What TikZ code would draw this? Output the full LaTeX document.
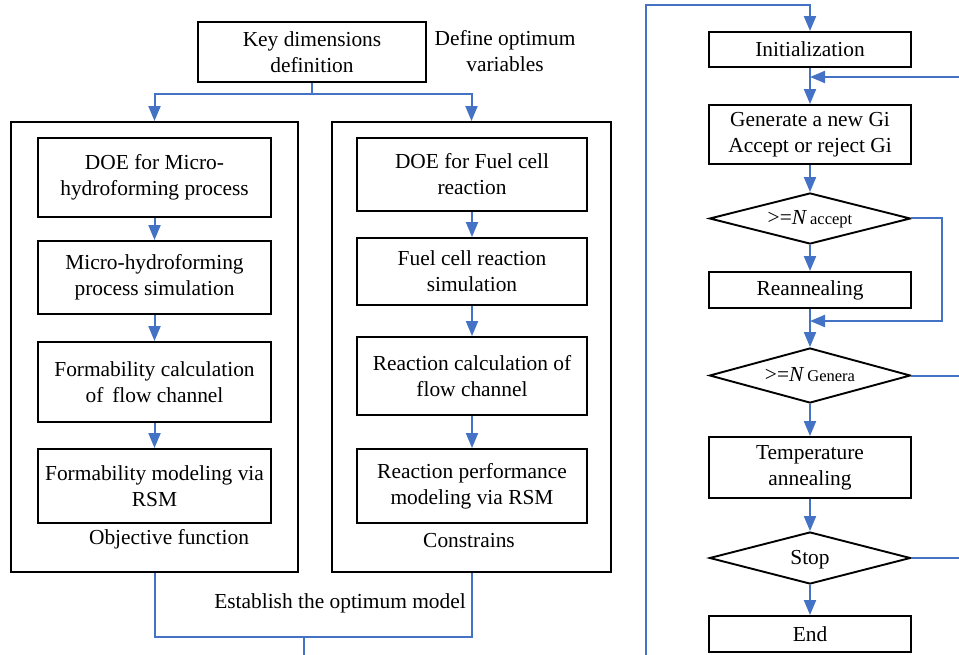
\documentclass[tikz,border=0pt]{standalone}
\usepackage{fontspec}
\setmainfont{Liberation Serif}
\usetikzlibrary{arrows.meta,shapes.geometric}
\definecolor{flowblue}{RGB}{68,114,196}
\newcommand{\dtext}[1]{\raisebox{-0.65ex}[0pt][0pt]{\makebox[0pt]{#1}}}
\begin{document}
\begin{tikzpicture}[x=1pt,y=-1pt,
  every node/.style={font=\fontsize{21.4}{26}\selectfont},
  box/.style={draw=black, line width=1.9pt, rectangle, align=center, inner sep=0pt},
  frame/.style={draw=black, line width=1.9pt, rectangle, inner sep=0pt},
  dia/.style={draw=black, line width=1.9pt, diamond, inner sep=0pt, minimum width=201pt},
  lbl/.style={align=center, inner sep=0pt},
  conn/.style={draw=flowblue, line width=2pt},
  arr/.style={conn, -{Triangle[width=12pt,length=15pt]}}
]
\path[use as bounding box] (0,0) rectangle (959,655);

% ---------- left part ----------
\node[box, minimum width=228pt, minimum height=60pt] (K) at (312,52) {Key dimensions\\definition};
\node[lbl] (DV) at (505,51) {Define optimum\\variables};

\node[frame, minimum width=287pt, minimum height=450pt] (L) at (154.5,347) {};
\node[frame, minimum width=279pt, minimum height=450pt] (R) at (471.5,347) {};

\node[box, minimum width=233pt, minimum height=79pt] (L1) at (154.5,177.5) {DOE for Micro-\\hydroforming process};
\node[box, minimum width=233pt, minimum height=73pt] (L2) at (154.5,277.5) {Micro-hydroforming\\process simulation};
\node[box, minimum width=233pt, minimum height=80pt] (L3) at (154.5,382) {Formability calculation\\of\, flow channel};
\node[box, minimum width=233pt, minimum height=74pt] (L4) at (154.5,486) {Formability modeling via\\RSM};
\node[lbl] (OF) at (169,539) {Objective function};

\node[box, minimum width=230pt, minimum height=73pt] (R1) at (472,174.5) {DOE for Fuel cell\\reaction};
\node[box, minimum width=230pt, minimum height=67pt] (R2) at (472,271.5) {Fuel cell reaction\\simulation};
\node[box, minimum width=230pt, minimum height=78pt] (R3) at (472,376) {Reaction calculation of\\flow channel};
\node[box, minimum width=230pt, minimum height=74pt] (R4) at (472,486) {Reaction performance\\modeling via RSM};
\node[lbl] (CO) at (469,541) {Constrains};

\node[lbl] (EM) at (340,603) {Establish the optimum model};

\coordinate (ks) at (312,94);
\coordinate (m) at (304,637);
\coordinate (mb) at (304,655);

\draw[conn] (K.south) -- (ks);
\draw[arr] (ks) -| (L.north);
\draw[arr] (ks) -| (R.north);
\draw[arr] (L1) -- (L2);
\draw[arr] (L2) -- (L3);
\draw[arr] (L3) -- (L4);
\draw[arr] (R1) -- (R2);
\draw[arr] (R2) -- (R3);
\draw[arr] (R3) -- (R4);
\draw[conn] (L.south) |- (m) -| (R.south);
\draw[conn] (m) -- (mb);

% ---------- right part ----------
\node[box, minimum width=202pt, minimum height=35pt] (I) at (810,49.5) {Initialization};
\node[box, minimum width=202pt, minimum height=59pt] (G) at (810,134.5) {Generate a new Gi\\Accept or reject Gi};
\node[dia, minimum height=51pt] (D1) at (810,218.5) {\dtext{>=\textit{N}\kern3pt{\fontsize{16.5}{18}\selectfont accept}}};
\node[box, minimum width=202pt, minimum height=36pt] (RA) at (810,290) {Reannealing};
\node[dia, minimum height=55pt] (D2) at (810,375.5) {\dtext{>=\textit{N}\kern3pt{\fontsize{16.5}{18}\selectfont Genera}}};
\node[box, minimum width=202pt, minimum height=61pt] (T) at (810,467.5) {Temperature\\annealing};
\node[dia, minimum height=52pt] (S) at (810,558) {\dtext{Stop}};
\node[box, minimum width=202pt, minimum height=36pt] (E) at (810,634) {End};

\coordinate (lb) at (646,655);
\coordinate (lt) at (646,5);
\coordinate (fb) at (959,77);
\coordinate (c1) at (942,218.5);
\coordinate (c2) at (942,321);
\coordinate (e2) at (959,375.5);
\coordinate (e3) at (959,558);

\draw[arr] (lb) -- (lt) -| (I.north);
\draw[arr] (I) -- (G);
\draw[arr] (fb) -- (I.south |- fb);
\draw[arr] (G) -- (D1);
\draw[arr] (D1) -- (RA);
\draw[arr] (D1.east) -- (c1) -- (c2) -- (RA.south |- c2);
\draw[arr] (RA) -- (D2);
\draw[conn] (D2.east) -- (e2);
\draw[arr] (D2) -- (T);
\draw[arr] (T) -- (S);
\draw[conn] (S.east) -- (e3);
\draw[arr] (S) -- (E);
\end{tikzpicture}
\end{document}
